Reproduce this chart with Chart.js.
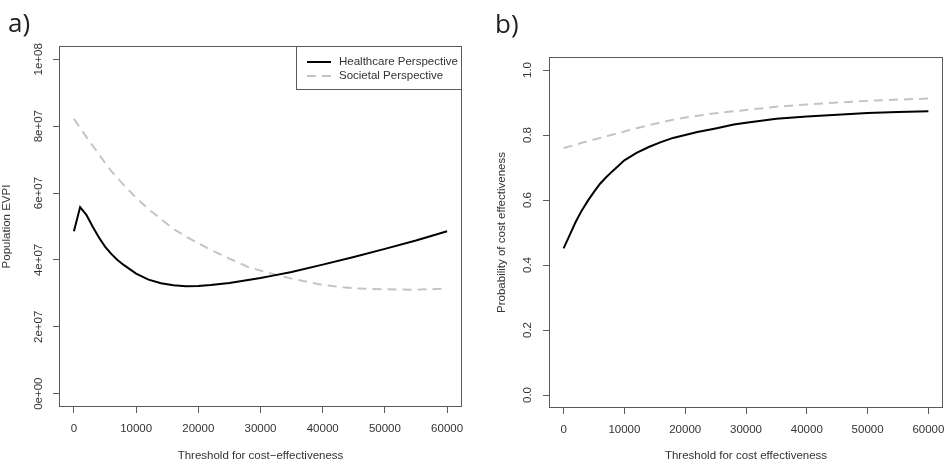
<!DOCTYPE html>
<html>
<head>
<meta charset="utf-8">
<script src="https://cdn.jsdelivr.net/npm/chart.js@4.4.0/dist/chart.umd.min.js"></script>
<style>
  body { margin: 0; background: #fff; width: 945px; height: 463px; overflow: hidden; position: relative; }
  canvas { position: absolute; top: 0; }
  .tag { position: absolute; z-index: 2; font-family: "Open Sans", "Noto Sans", sans-serif; font-size: 26px; line-height: 1; color: #222; }
</style>
</head>
<body>
<canvas id="evpi" style="left:0" width="472" height="463"></canvas>
<canvas id="prob" style="left:472px" width="473" height="463"></canvas>
<div class="tag" style="left:8px;top:9px">a)</div>
<div class="tag" style="left:495px;top:10px">b)</div>
<script>
// panel a) population EVPI
const evpiThreshold = [0, 1000, 2000, 3000, 4000, 5000, 6000, 7000, 8000, 10000, 12000, 14000, 16000,
  18000, 20000, 22000, 25000, 28000, 30000, 32000, 35000, 40000, 45000, 50000, 55000, 60000];
const evpiHealthcare = [4.86e7, 5.58e7, 5.35e7, 5.00e7, 4.68e7, 4.40e7, 4.18e7, 4.00e7, 3.85e7, 3.59e7, 3.41e7, 3.30e7, 3.24e7,
  3.21e7, 3.22e7, 3.25e7, 3.31e7, 3.40e7, 3.46e7, 3.53e7, 3.64e7, 3.86e7, 4.09e7, 4.33e7, 4.58e7, 4.86e7];
const evpiSocietal = [8.22e7, 7.95e7, 7.68e7, 7.42e7, 7.17e7, 6.90e7, 6.66e7, 6.45e7, 6.24e7, 5.86e7, 5.52e7, 5.22e7, 4.93e7,
  4.70e7, 4.50e7, 4.30e7, 4.04e7, 3.79e7, 3.68e7, 3.58e7, 3.44e7, 3.25e7, 3.15e7, 3.12e7, 3.11e7, 3.14e7];
const evpiTicks = [0, 2e7, 4e7, 6e7, 8e7, 1e8];
const evpiTickLabels = ['0e+00', '2e+07', '4e+07', '6e+07', '8e+07', '1e+08'];

// panel b) probability of cost effectiveness
const probThreshold = [0, 1000, 2000, 3000, 4000, 5000, 6000, 7000, 8000, 10000, 12000, 14000, 16000,
  18000, 20000, 22000, 25000, 28000, 30000, 35000, 40000, 45000, 50000, 55000, 60000];
const probHealthcare = [0.451, 0.492, 0.533, 0.568, 0.598, 0.625, 0.650, 0.670, 0.688, 0.722, 0.745, 0.763, 0.778,
  0.791, 0.800, 0.809, 0.820, 0.832, 0.838, 0.850, 0.857, 0.862, 0.868, 0.871, 0.873];
const probSocietal = [0.760, 0.765, 0.770, 0.776, 0.781, 0.786, 0.791, 0.796, 0.801, 0.811, 0.821, 0.830, 0.839,
  0.847, 0.854, 0.859, 0.867, 0.873, 0.877, 0.887, 0.894, 0.900, 0.905, 0.909, 0.912];
const probTicks = [0, 0.2, 0.4, 0.6, 0.8, 1.0];
const probTickLabels = ['0.0', '0.2', '0.4', '0.6', '0.8', '1.0'];

const thresholdTicks = [0, 10000, 20000, 30000, 40000, 50000, 60000];
const thresholdTickLabels = ['0', '10000', '20000', '30000', '40000', '50000', '60000'];
const seriesNames = ['Healthcare Perspective', 'Societal Perspective'];


const axisInk = '#5a5a5a';
const textInk = '#333';
const rFont = { family: '"Liberation Sans", Arial, sans-serif', size: 11.5 };

// R style frame round the plot region
const frame = {
  id: 'frame',
  afterDraw(chart) {
    const a = chart.chartArea, c = chart.ctx;
    c.save();
    c.strokeStyle = axisInk;
    c.lineWidth = 1;
    c.strokeRect(a.left + 0.5, a.top + 0.5, a.right - a.left - 1, a.bottom - a.top - 1);
    c.restore();
  }
};

// boxed legend in the top right corner, like legend("topright") in R
const boxLegend = {
  id: 'boxLegend',
  afterDraw(chart) {
    const a = chart.chartArea, c = chart.ctx;
    const x0 = 296, y0 = a.top, w = a.right - x0, h = 43;
    c.save();
    c.fillStyle = '#fff';
    c.fillRect(x0, y0, w, h);
    c.strokeStyle = axisInk;
    c.lineWidth = 1;
    c.strokeRect(x0 + 0.5, y0 + 0.5, w - 1, h);
    chart.data.datasets.forEach((ds, i) => {
      const y = y0 + 16 + i * 14;
      c.strokeStyle = ds.borderColor;
      c.lineWidth = ds.borderWidth;
      c.setLineDash(ds.borderDash || []);
      c.beginPath();
      c.moveTo(x0 + 11, y);
      c.lineTo(x0 + 35, y);
      c.stroke();
      c.setLineDash([]);
      c.fillStyle = textInk;
      c.font = '11.5px "Liberation Sans", Arial, sans-serif';
      c.textBaseline = 'middle';
      c.fillText(ds.label, x0 + 43, y);
    });
    c.restore();
  }
};

function pairs(xs, ys) {
  return xs.map((x, i) => ({ x: x, y: ys[i] }));
}

function panel(id, o) {
  const grid = { display: true, drawOnChartArea: false, drawTicks: true, tickLength: 6, color: axisInk };
  return new Chart(document.getElementById(id), {
    type: 'line',
    data: {
      datasets: [
        { label: seriesNames[0], data: pairs(o.xs, o.healthcare), borderColor: '#000', borderWidth: 2,
          pointRadius: 0, tension: 0, fill: false },
        { label: seriesNames[1], data: pairs(o.xs, o.societal), borderColor: '#c4c4c4', borderWidth: 2,
          borderDash: [9, 6], pointRadius: 0, tension: 0, fill: false }
      ]
    },
    options: {
      responsive: false,
      animation: false,
      devicePixelRatio: 1,
      layout: { padding: o.padding },
      plugins: { legend: { display: false }, tooltip: { enabled: false } },
      scales: {
        x: {
          type: 'linear', min: -2400, max: 62400,
          afterBuildTicks(s) { s.ticks = thresholdTicks.map(v => ({ value: v })); },
          ticks: { autoSkip: false, minRotation: 0, maxRotation: 0,
            padding: 9, font: rFont, color: textInk, callback: (v, i) => thresholdTickLabels[i] },
          grid: grid,
          border: { display: false },
          title: { display: true, text: o.xTitle, font: rFont, color: textInk, padding: 0 },
          afterFit(s) { s.height = o.xHeight; s.paddingLeft = 0; s.paddingRight = 0; }
        },
        y: {
          type: 'linear', min: o.yMin, max: o.yMax,
          afterBuildTicks(s) { s.ticks = o.yTicks.map(v => ({ value: v })); },
          ticks: { autoSkip: false, minRotation: 90, maxRotation: 90, crossAlign: 'center',
            padding: o.yTickPad, font: rFont, color: textInk, callback: (v, i) => o.yLabels[i] },
          grid: grid,
          border: { display: false },
          title: { display: true, text: o.yTitle, font: rFont, color: textInk, padding: { top: o.yTitlePad, bottom: 0 } },
          afterFit(s) { s.width = o.yWidth; s.paddingTop = 0; s.paddingBottom = 0; }
        }
      }
    },
    plugins: o.legend ? [frame, boxLegend] : [frame]
  });
}

panel('evpi', {
  xs: evpiThreshold, healthcare: evpiHealthcare, societal: evpiSocietal,
  yMin: -4e6, yMax: 1.04e8, yTicks: evpiTicks, yLabels: evpiTickLabels,
  xTitle: 'Threshold for cost\u2212effectiveness', yTitle: 'Population EVPI',
  padding: { left: 0, right: 10, top: 46, bottom: 0 },
  xHeight: 56, yWidth: 59, yTickPad: -2, yTitlePad: 0, legend: true
});

panel('prob', {
  xs: probThreshold, healthcare: probHealthcare, societal: probSocietal,
  yMin: -0.04, yMax: 1.04, yTicks: probTicks, yLabels: probTickLabels,
  xTitle: 'Threshold for cost effectiveness', yTitle: 'Probability of cost effectiveness',
  padding: { left: 0, right: 2, top: 57, bottom: 0 },
  xHeight: 55, yWidth: 77, yTickPad: 7, yTitlePad: 23, legend: false
});
</script>
</body>
</html>
